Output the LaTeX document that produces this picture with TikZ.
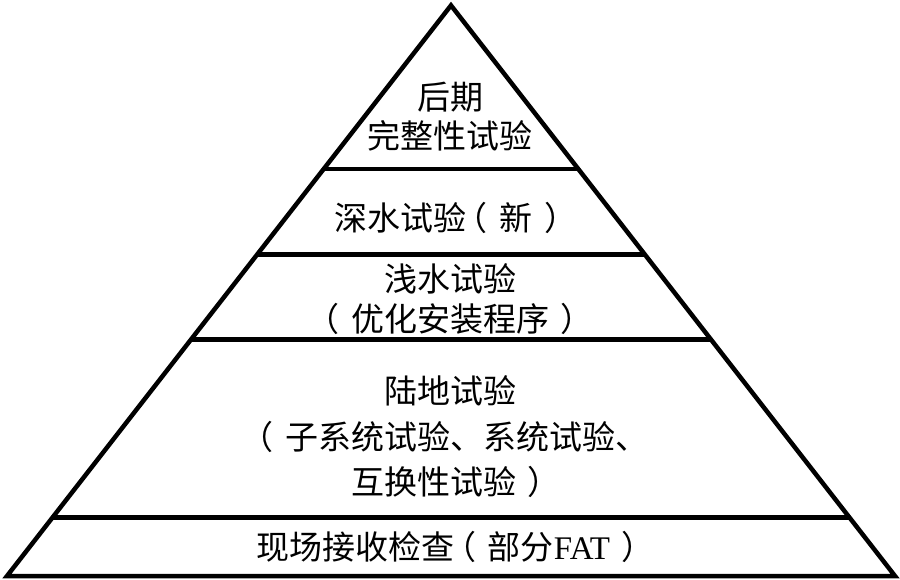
\documentclass[tikz,border=0pt]{standalone}
\usepackage{fontspec}
\setmainfont{Noto Sans CJK SC}
\newfontfamily\latinserif{Liberation Serif}
\usetikzlibrary{calc}
\newcommand\lpr{\kern-0.35em（\kern0.35em}
\newcommand\rpr{\kern0.35em）\kern-0.35em}
\tikzset{
  edge/.style={line width=4.5pt, line join=miter, black},
  label/.style={anchor=base, inner sep=0pt, font=\fontsize{33pt}{40pt}\selectfont},
}
\begin{document}
\begin{tikzpicture}[x=1pt,y=-1pt]
\useasboundingbox (0,0) rectangle (900,579);
\coordinate (apex) at (451,5.4);
\coordinate (bl) at (7,576);
\coordinate (br) at (895,576);
% level boundary points
\coordinate (l1) at ($(apex)!0.2867!(bl)$);
\coordinate (r1) at ($(apex)!0.2867!(br)$);
\coordinate (l2) at ($(apex)!0.4366!(bl)$);
\coordinate (r2) at ($(apex)!0.4366!(br)$);
\coordinate (l3) at ($(apex)!0.5855!(bl)$);
\coordinate (r3) at ($(apex)!0.5855!(br)$);
\coordinate (l4) at ($(apex)!0.8975!(bl)$);
\coordinate (r4) at ($(apex)!0.8975!(br)$);
\draw[edge] (apex) -- (bl) -- (br) -- cycle;
\draw[edge] (l1) -- (r1);
\draw[edge] (l2) -- (r2);
\draw[edge] (l3) -- (r3);
\draw[edge] (l4) -- (r4);
% texts
\node[label] (t1a) at (450,109) {后期};
\node[label] (t1b) at (450,148.5) {完整性试验};
\node[label] (t2) at (450,230.5) {深水试验\lpr 新\rpr};
\node[label] (t3a) at (450,291.5) {浅水试验};
\node[label] (t3b) at (450,331.5) {\lpr 优化安装程序\rpr};
\node[label] (t4a) at (450,403.5) {陆地试验};
\node[label] (t4b) at (450,449.5) {\lpr 子系统试验、系统试验、};
\node[label] (t4c) at (450,494.5) {互换性试验\rpr};
\node[label] (t5) at (450,559.5) {现场接收检查\lpr 部分{\latinserif FAT}\rpr};
\end{tikzpicture}
\end{document}
